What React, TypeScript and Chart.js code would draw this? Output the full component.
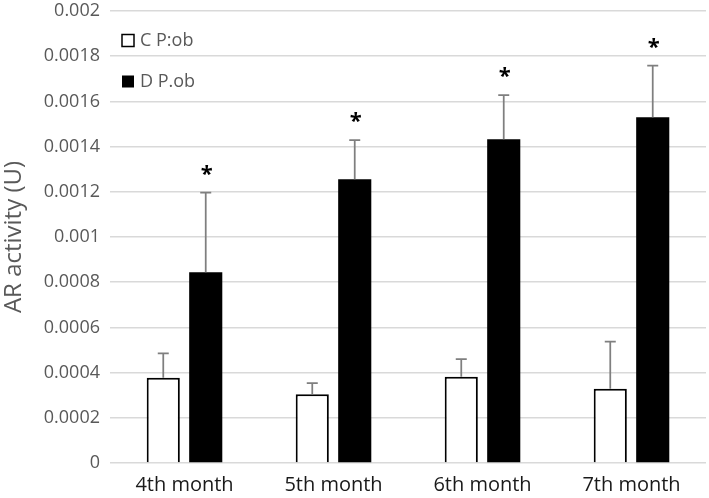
import React, { useEffect, useRef } from "react";
import { Chart, registerables } from "chart.js";

Chart.register(...registerables);

const categories = ["4th month", "5th month", "6th month", "7th month"];
const seriesLabels = ["C P:ob", "D P.ob"];
const controlValues = [0.000377, 0.000304, 0.000382, 0.000329];
const controlErrors = [0.000108, 0.000049, 0.000078, 0.000208];
const obeseValues = [0.000844, 0.001255, 0.001432, 0.00153];
const obeseErrors = [0.000352, 0.000174, 0.000196, 0.000228];
const significance = ["*", "*", "*", "*"];
const yTickValues = [0, 0.0002, 0.0004, 0.0006, 0.0008, 0.001, 0.0012, 0.0014, 0.0016, 0.0018, 0.002];
const yTickLabels = ["0", "0.0002", "0.0004", "0.0006", "0.0008", "0.001", "0.0012", "0.0014", "0.0016", "0.0018", "0.002"];
const yTitle = "AR activity (U)";

const FONT = "'Open Sans', 'Noto Sans', sans-serif";

const overlayPlugin = {
  id: "overlay",
  afterDatasetsDraw(chart: any) {
    const ctx = chart.ctx;
    const y = chart.scales.y;
    const errs = [controlErrors, obeseErrors];
    const vals = [controlValues, obeseValues];
    ctx.save();
    // error bars
    for (let d = 0; d < 2; d++) {
      const meta = chart.getDatasetMeta(d);
      meta.data.forEach((bar: any, i: number) => {
        const top = y.getPixelForValue(vals[d][i]);
        const errTop = y.getPixelForValue(vals[d][i] + errs[d][i]);
        ctx.strokeStyle = "#7f7f7f";
        ctx.lineWidth = 1.75;
        ctx.beginPath();
        ctx.moveTo(bar.x, top);
        ctx.lineTo(bar.x, errTop);
        ctx.moveTo(bar.x - 5.5, errTop);
        ctx.lineTo(bar.x + 5.5, errTop);
        ctx.stroke();
      });
    }
    // significance stars
    const meta1 = chart.getDatasetMeta(1);
    ctx.fillStyle = "#000";
    ctx.font = `bold 22px ${FONT}`;
    ctx.textAlign = "center";
    ctx.textBaseline = "middle";
    meta1.data.forEach((bar: any, i: number) => {
      const errTop = y.getPixelForValue(obeseValues[i] + obeseErrors[i]);
      ctx.fillText(significance[i], bar.x + 1, errTop - 18);
    });
    // legend
    const ca = chart.chartArea;
    const lx = ca.left + 12;
    const rows = [40.5, 81.5];
    ctx.font = `18px ${FONT}`;
    ctx.textAlign = "left";
    ctx.textBaseline = "middle";
    for (let d = 0; d < 2; d++) {
      const cy = rows[d];
      if (d === 0) {
        ctx.fillStyle = "#fff";
        ctx.fillRect(lx, cy - 6, 12, 12);
        ctx.strokeStyle = "#000";
        ctx.lineWidth = 1.5;
        ctx.strokeRect(lx, cy - 6, 12, 12);
      } else {
        ctx.fillStyle = "#000";
        ctx.fillRect(lx, cy - 6, 12, 12);
      }
      ctx.fillStyle = "#595959";
      ctx.fillText(chart.data.datasets[d].label, lx + 18, cy);
    }
    ctx.restore();
  },
};

export default function App() {
  const ref = useRef<HTMLCanvasElement | null>(null);
  useEffect(() => {
    document.body.style.margin = "0";
    const canvas = ref.current;
    if (!canvas) return;
    const chart = new Chart(canvas, {
      type: "bar",
      data: {
        labels: categories,
        datasets: [
          {
            label: seriesLabels[0],
            data: controlValues,
            backgroundColor: "#ffffff",
            borderColor: "#000000",
            borderWidth: 2,
            categoryPercentage: 0.57,
            barPercentage: 0.78,
          },
          {
            label: seriesLabels[1],
            data: obeseValues,
            backgroundColor: "#000000",
            borderWidth: 0,
            categoryPercentage: 0.57,
            barPercentage: 0.78,
          },
        ],
      },
      options: {
        responsive: false,
        animation: false,
        layout: { padding: { left: 0, right: 3, top: 11, bottom: 0 } },
        plugins: {
          legend: { display: false },
          tooltip: { enabled: false },
        },
        scales: {
          x: {
            grid: { display: false, drawTicks: false },
            border: { display: false },
            ticks: {
              color: "#1a1a1a",
              font: { family: FONT, size: 20 },
              padding: 10,
              maxRotation: 0,
            },
            afterFit(scale: any) {
              scale.height = 35;
            },
          },
          y: {
            min: 0,
            max: 0.002,
            grid: { color: "#d9d9d9", lineWidth: 1.5, drawTicks: false },
            border: { display: false },
            ticks: {
              color: "#595959",
              font: { family: FONT, size: 18 },
              padding: 10,
              callback: (_v: any, i: number) => yTickLabels[i],
            },
            afterBuildTicks(scale: any) {
              scale.ticks = yTickValues.map((v) => ({ value: v }));
            },
            title: {
              display: true,
              text: yTitle,
              color: "#595959",
              font: { family: FONT, size: 24 },
              padding: { top: 0, bottom: 0 },
            },
            afterFit(scale: any) {
              scale.width = 110;
              scale.paddingTop = 0;
              scale.paddingBottom = 0;
            },
          },
        },
      },
      plugins: [overlayPlugin],
    });
    return () => chart.destroy();
  }, []);
  return (
    <div style={{ width: 709, height: 498 }}>
      <canvas ref={ref} width={709} height={498} style={{ display: "block" }} />
    </div>
  );
}
